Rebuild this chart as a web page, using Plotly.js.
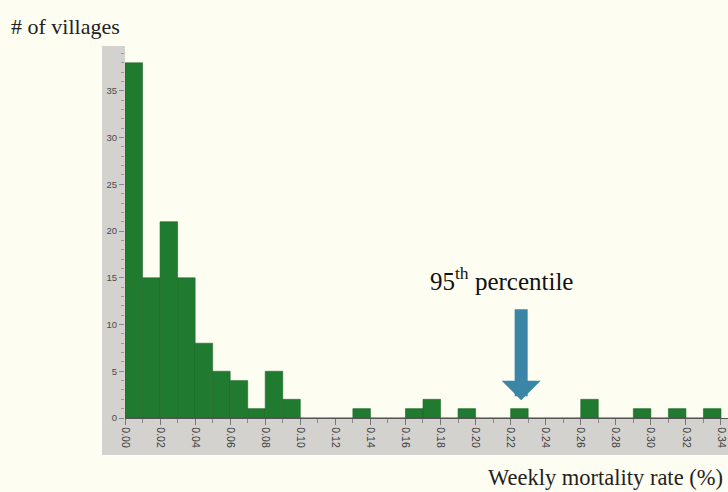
<!DOCTYPE html>
<html>
<head>
<meta charset="utf-8">
<script src="https://cdn.plot.ly/plotly-3.0.1.min.js"></script>
<style>html,body{margin:0;padding:0;background:#FEFDF2;}</style>
</head>
<body>
<div id="chart" style="width:728px;height:492px;"></div>
<script>
// Histogram bins (left edge of each 0.01-wide bin) and village counts
const binStart = [0.00,0.01,0.02,0.03,0.04,0.05,0.06,0.07,0.08,0.09,
                  0.10,0.11,0.12,0.13,0.14,0.15,0.16,0.17,0.18,0.19,
                  0.20,0.21,0.22,0.23,0.24,0.25,0.26,0.27,0.28,0.29,
                  0.30,0.31,0.32,0.33];
const counts   = [38,15,21,15,8,5,4,1,5,2,
                  0,0,0,1,0,0,1,2,0,1,
                  0,0,1,0,0,0,2,0,0,1,
                  0,1,0,1];
const binWidth = 0.01;
const percentile95 = 0.226;

const serif = 'Liberation Serif, Times New Roman, serif';
const sans = 'Liberation Sans, Arial, sans-serif';
const band = '#D3D2CE';

const trace = {
  type: 'bar',
  x: binStart,
  y: counts,
  width: binWidth,
  offset: 0,
  marker: {color: '#207A2F', line: {color: '#1B6828', width: 0.6}},
  hoverinfo: 'x+y'
};

const layout = {
  width: 728, height: 492,
  margin: {l: 125, r: 0, t: 46, b: 74},
  paper_bgcolor: '#FEFDF2',
  plot_bgcolor: '#FEFDF2',
  showlegend: false,
  bargap: 0,
  xaxis: {
    range: [0, 0.344],
    tick0: 0, dtick: 0.02,
    tickformat: '.2f',
    tickangle: 90,
    ticks: 'outside', ticklen: 6, tickcolor: '#777', tickwidth: 1,
    minor: {dtick: 0.01, ticks: 'outside', ticklen: 4, tickcolor: '#888'},
    tickfont: {family: sans, size: 10.5, color: '#3c3c3c'},
    showgrid: false, zeroline: false,
    showline: true, linecolor: '#555', linewidth: 1.2,
    fixedrange: true
  },
  yaxis: {
    range: [0, 39.8],
    tick0: 0, dtick: 5,
    ticks: 'outside', ticklen: 5, tickcolor: '#888', tickwidth: 1,
    minor: {dtick: 1, ticks: 'outside', ticklen: 3, tickcolor: '#999'},
    tickfont: {family: sans, size: 9.5, color: '#4a4a4a'},
    showgrid: false, zeroline: false, showline: false,
    fixedrange: true
  },
  shapes: [
    {type: 'rect', xref: 'paper', yref: 'paper', x0: -0.0381, x1: 0, y0: -0.0995, y1: 1,
     fillcolor: band, line: {width: 0}, layer: 'below'},
    {type: 'rect', xref: 'paper', yref: 'paper', x0: -0.0381, x1: 1, y0: -0.0995, y1: 0,
     fillcolor: band, line: {width: 0}, layer: 'below'}
  ],
  annotations: [
    {text: '# of villages', xref: 'paper', yref: 'paper', x: -0.193, y: 1.053,
     xanchor: 'left', yanchor: 'middle', showarrow: false,
     font: {family: serif, size: 22, color: '#222'}},
    {text: 'Weekly mortality rate (%)', xref: 'paper', yref: 'paper', x: 0.598, y: -0.161,
     xanchor: 'left', yanchor: 'middle', showarrow: false,
     font: {family: serif, size: 22.5, color: '#222'}},
    {text: '95<sup>th</sup> percentile', xref: 'x', yref: 'y', x: 0.2145, y: 14.9,
     xanchor: 'center', yanchor: 'middle', showarrow: false,
     font: {family: serif, size: 25, color: '#111'}},
    {text: ' ', xref: 'x', yref: 'y', x: percentile95, y: 1.9,
     showarrow: true, ax: 0, ay: -101, arrowhead: 1, arrowwidth: 13, arrowsize: 0.5,
     arrowcolor: '#3B86A6', standoff: 0}
  ]
};

Plotly.newPlot('chart', [trace], layout, {displayModeBar: false, staticPlot: true});
</script>
</body>
</html>
